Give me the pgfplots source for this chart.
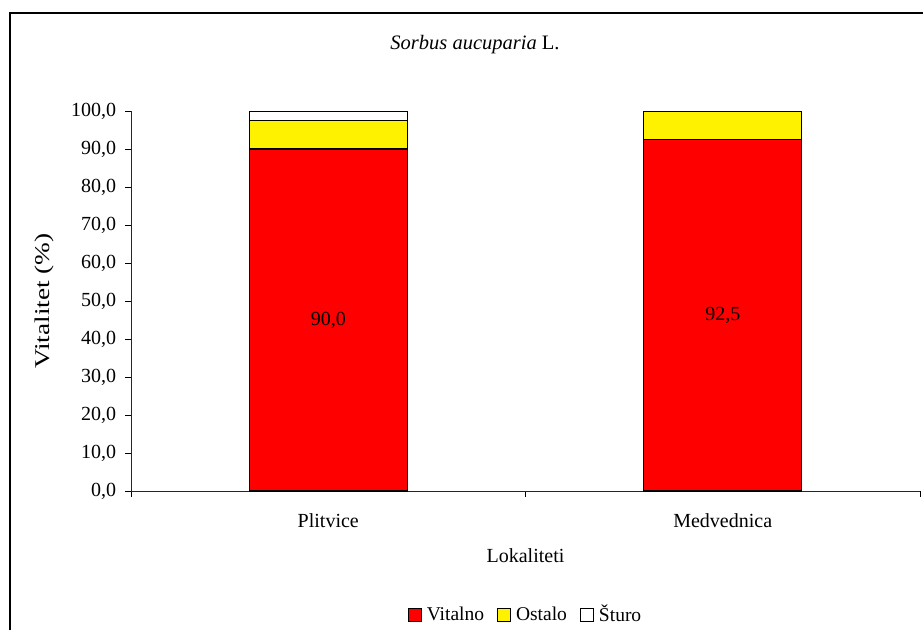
\documentclass[border=0pt]{standalone}
\usepackage{fontspec}
\setmainfont{Liberation Serif}
\usepackage{pgfplots}
\pgfplotsset{compat=1.18}

\begin{document}
\fontsize{20}{24}\selectfont
\begin{tikzpicture}[x=1pt,y=1pt]
  \path[use as bounding box] (0,0) rectangle (923,630);
  % outer chart frame (cut off at right and bottom)
  \draw[line width=1.4pt] (10,0) -- (10,617) -- (923,617);
  \node at (475,585) {\fontsize{20.5}{24}\selectfont\textit{Sorbus aucuparia} L.};

  \begin{axis}[
      at={(131pt,139pt)}, anchor=south west,
      scale only axis,
      width=789pt, height=380pt,
      ybar stacked,
      bar width=158pt,
      xmin=0, xmax=2,
      ymin=0, ymax=100,
      axis x line*=bottom, axis y line*=left,
      axis line style={-, line width=1pt, black!85},
      xtick={0.5,1.5},
      xticklabels={Plitvice,Medvednica},
      major x tick style={draw=none},
      minor xtick={0,1,2},
      minor tick length=6pt,
      ytick={0,10,...,100},
      major tick length=6pt,
      tick align=outside,
      tick style={black, line width=1pt},
      x tick label style={yshift=-10pt},
      y tick label style={xshift=-2pt},
      yticklabel style={/pgf/number format/.cd, fixed, fixed zerofill, precision=1, use comma},
      /pgf/number format/assume math mode=true,
      ylabel={Vitalitet (\%)},
      ylabel style={at={(axis description cs:-0.11,0.5)}, anchor=center,
        font=\fontsize{21}{25}\selectfont, xscale=1.3},
      xlabel={Lokaliteti},
      xlabel style={at={(axis description cs:0.5,-0.171)}, anchor=center},
      legend style={at={(0.5,-0.326)}, anchor=center, draw=none, legend columns=-1,
        font=\fontsize{19.5}{22}\selectfont,
        /tikz/every odd column/.append style={column sep=3pt},
        /tikz/every even column/.append style={column sep=11pt}},
      legend image code/.code={\draw[#1, line width=1pt] (0pt,-6.5pt) rectangle (13pt,6.5pt);},
    ]
    \addplot[fill=red, draw=black, line width=1.3pt,
      nodes near coords,
      point meta=rawy,
      every node near coord/.append style={anchor=center, black,
        font=\fontsize{20}{24}\selectfont,
        /pgf/number format/.cd, fixed, fixed zerofill, precision=1, use comma, assume math mode=true},
    ] coordinates {(0.5,90.0) (1.5,92.5)};
    \addplot[fill=yellow, draw=black, line width=1.3pt] coordinates {(0.5,7.5) (1.5,7.5)};
    \addplot[fill=white, draw=black, line width=1.3pt] coordinates {(0.5,2.5) (1.5,0)};
    \legend{Vitalno, Ostalo, Šturo}
  \end{axis}
\end{tikzpicture}
\end{document}
